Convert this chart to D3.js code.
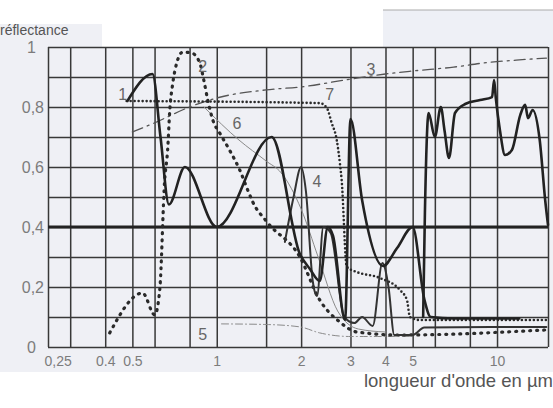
<!DOCTYPE html>
<head>
<meta charset="utf-8">
<script src="https://d3js.org/d3.v7.min.js"></script>
<style>
  body { margin: 0; background: #fff; }
  svg { display: block; font-family: "Liberation Sans", Arial, sans-serif; }
  .grid line { stroke: #383838; stroke-width: 1.5px; }
  .grid path { display: none; }
  .tick text { fill: #7c7c7c; }
  .curve { fill: none; stroke: #262626; stroke-linejoin: round; stroke-linecap: round; }
  .lbl { fill: #666; font-size: 16px; text-anchor: middle; }
</style>
</head>
<body>
<svg></svg>
<script>
  var width = 553;
  var height = 408;

  // wavelength (µm), reflectance
  var curve1 = [[0.48,0.82],[0.59,0.91],[0.63,0.70],[0.675,0.475],[0.77,0.60],[1.0,0.40],[1.57,0.70],[1.98,0.31],[2.15,0.26],[2.33,0.22],[2.49,0.40],[2.6,0.37],[2.87,0.09],[3.0,0.76],[3.3,0.49],[3.92,0.27],[4.4,0.33],[5.0,0.40],[5.5,0.16],[5.8,0.10],[7,0.095],[12,0.095]];
  var curve1b = [[5.45,0.10],[5.53,0.45],[5.7,0.78],[6.0,0.70],[6.3,0.80],[6.5,0.72],[6.74,0.63],[7.08,0.78],[7.7,0.81],[8.7,0.823],[9.6,0.833],[9.76,0.89],[9.9,0.83],[10.25,0.72],[10.68,0.64],[11.3,0.657],[12.1,0.773],[12.6,0.807],[12.9,0.763],[13.4,0.79],[14.2,0.69],[14.85,0.49],[15.2,0.407]];
  var curve2 = [[0.415,0.047],[0.544,0.18],[0.601,0.107],[0.626,0.19],[0.652,0.557],[0.668,0.657],[0.68,0.79],[0.697,0.88],[0.72,0.947],[0.756,0.983],[0.814,0.98],[0.87,0.947],[0.899,0.89],[0.929,0.823],[0.968,0.757],[1.025,0.713],[1.11,0.657],[1.208,0.59],[1.29,0.523],[1.345,0.483],[1.51,0.417],[1.98,0.30],[2.33,0.157],[2.75,0.083],[3.16,0.05],[4.5,0.04],[15,0.057]];
  var curve3 = [[0.5,0.717],[0.6,0.747],[0.8,0.80],[1.0,0.83],[1.5,0.857],[2,0.867],[3,0.893],[4,0.91],[5,0.92],[7,0.933],[9,0.947],[12,0.957],[15,0.963]];
  var curve4 = [[1.75,0.35],[1.88,0.50],[2.0,0.60],[2.08,0.52],[2.2,0.22],[2.28,0.17],[2.4,0.40],[2.55,0.38],[2.85,0.10],[3.1,0.08],[3.3,0.10],[3.6,0.07],[3.9,0.28],[4.1,0.20],[4.3,0.04],[5.0,0.04],[5.5,0.065],[15,0.067]];
  var curve5 = [[1.04,0.077],[1.5,0.075],[1.98,0.067],[2.33,0.047],[3.0,0.035],[5,0.035]];
  var curve6 = [[0.9,0.80],[1.2,0.69],[1.5,0.62],[1.7,0.58],[2.0,0.46],[2.3,0.30],[2.7,0.12],[3.2,0.06],[4,0.05]];
  var curve7 = [[0.477,0.82],[2.33,0.813],[2.47,0.797],[2.57,0.747],[2.68,0.69],[2.75,0.613],[2.79,0.557],[2.91,0.267],[3.16,0.25],[3.82,0.23],[4.5,0.19],[4.77,0.157],[4.89,0.10],[5.3,0.09],[15,0.09]];

  var curveNames = ["1","2","3","4","5","6","7"];
  var labelPos = [[0.462,0.823],[0.891,0.917],[3.55,0.907],[2.28,0.533],[0.891,0.023],[1.18,0.727],[2.53,0.823]];

  var xGrid = [0.25,0.3,0.4,0.5,0.6,0.8,1,1.5,2,3,4,5,6,8,10,15.2];
  var xTicks = [0.25,0.4,0.5,1,2,3,4,5,10];
  var xTickLabels = ["0,25","0.4","0.5","1","2","3","4","5","10"];
  var yTicks = [0,0.2,0.4,0.6,0.8,1];
  var yTickLabels = ["0","0,2","0,4","0,6","0,8","1"];

  var svg = d3.select("svg")
      .attr("width", width)
      .attr("height", height);

  var x = d3.scaleLog().domain([0.25, 15.2]).range([48, 548]);
  var y = d3.scaleLinear().domain([0, 1]).range([347, 47]);

  // scan-like background patches
  svg.append("rect").attr("x", 0).attr("y", 47).attr("width", width).attr("height", 325).attr("fill", "#eff0f5");
  svg.append("rect").attr("x", 0).attr("y", 24).attr("width", 102).attr("height", 24).attr("fill", "#eff0f5");
  svg.append("rect").attr("x", 383).attr("y", 10).attr("width", 170).attr("height", 38).attr("fill", "#eef0f6");
  svg.append("line").attr("x1", 383).attr("x2", 553).attr("y1", 10).attr("y2", 10).attr("stroke", "#aaa");
  svg.append("rect").attr("x", 0).attr("y", 372).attr("width", 355).attr("height", 36).attr("fill", "#fff");

  // grid
  svg.append("g").attr("class", "grid")
      .attr("transform", "translate(0,347)")
      .call(d3.axisBottom(x).tickValues(xGrid).tickSize(-300).tickFormat(""));
  svg.append("g").attr("class", "grid")
      .attr("transform", "translate(48,0)")
      .call(d3.axisLeft(y).ticks(10).tickSize(-500).tickFormat(""));
  svg.append("line")
      .attr("x1", 48).attr("x2", 548)
      .attr("y1", y(0.4)).attr("y2", y(0.4))
      .attr("stroke", "#222").attr("stroke-width", 3);

  // tick labels
  var xa = svg.append("g")
      .attr("transform", "translate(0,353)")
      .call(d3.axisBottom(x).tickValues(xTicks).tickSize(0)
        .tickFormat(function(d, i) { return xTickLabels[i]; }));
  xa.select(".domain").remove();
  xa.selectAll("text").style("font-size", "14px").attr("dy", "0.71em");
  xa.selectAll("text").filter(function(d) { return d === 0.25; })
      .attr("text-anchor", "start").attr("x", -4);

  var ya = svg.append("g")
      .attr("transform", "translate(48,0)")
      .call(d3.axisLeft(y).tickValues(yTicks).tickSize(0)
        .tickFormat(function(d, i) { return yTickLabels[i]; }));
  ya.select(".domain").remove();
  ya.selectAll("text").style("font-size", "16px")
      .attr("x", function(d, i) { return yTickLabels[i].length > 1 ? -4 : -12; });

  svg.append("text").attr("x", 0).attr("y", 35)
      .style("font-size", "14px").style("fill", "#555").text("réflectance");
  svg.append("text").attr("x", 553).attr("y", 387).attr("text-anchor", "end")
      .style("font-size", "18.5px").style("fill", "#555").text("longueur d'onde en µm");

  var line = d3.line()
      .x(function(d) { return x(d[0]); })
      .y(function(d) { return y(d[1]); })
      .curve(d3.curveMonotoneX);

  var styles = [
    {data: curve5, w: 1, dash: "7 3 1 3", color: "#8a8a8a"},
    {data: curve6, w: 1, dash: null, color: "#8a8a8a"},
    {data: curve3, w: 1.3, dash: "11 5 2 5", color: "#555"},
    {data: curve7, w: 2.6, dash: "0 4", color: "#2a2a2a"},
    {data: curve2, w: 3.2, dash: "1 6", color: "#2a2a2a"},
    {data: curve4, w: 2, dash: null, color: "#333"},
    {data: curve1, w: 2.6, dash: null, color: "#222"},
    {data: curve1b, w: 2.6, dash: null, color: "#222"}
  ];

  svg.selectAll("path.curve")
      .data(styles)
      .enter().append("path")
      .attr("class", "curve")
      .attr("d", function(d) { return line(d.data); })
      .style("stroke", function(d) { return d.color; })
      .style("stroke-width", function(d) { return d.w; })
      .style("stroke-dasharray", function(d) { return d.dash; });

  svg.selectAll("text.lbl")
      .data(curveNames)
      .enter().append("text")
      .attr("class", "lbl")
      .attr("x", function(d, i) { return x(labelPos[i][0]); })
      .attr("y", function(d, i) { return y(labelPos[i][1]); })
      .text(function(d) { return d; });
</script>
</body>
